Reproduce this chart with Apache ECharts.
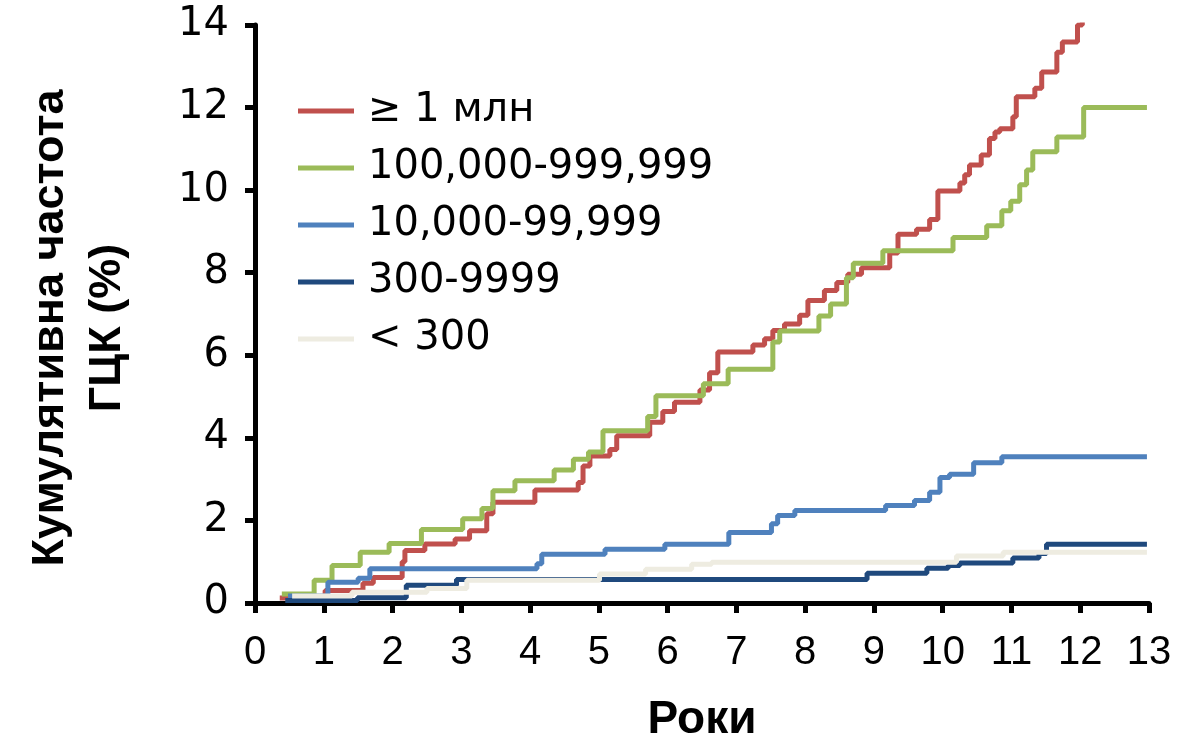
<!DOCTYPE html>
<html>
<head>
<meta charset="utf-8">
<script src="https://cdn.jsdelivr.net/npm/echarts@6/dist/echarts.min.js"></script>
<style>
  html, body { margin: 0; padding: 0; background: #fff; }
  #chart { width: 1181px; height: 748px; }
</style>
</head>
<body>
<div id="chart"></div>
<script>
// series names (legend order)
const seriesNames = ['≥ 1 млн', '100,000-999,999', '10,000-99,999', '300-9999', '< 300'];
const seriesColors = ['#C0504D', '#9BBB59', '#4F81BD', '#1F497D', '#EEECE1'];

// [years, cumulative %] at each step
const over1m = [
  [0.36, 0.12], [1.02, 0.3], [1.57, 0.48], [1.72, 0.62], [2.14, 1.0], [2.18, 1.27],
  [2.47, 1.43], [2.91, 1.55], [3.12, 1.75], [3.37, 2.16], [3.46, 2.44], [4.07, 2.74],
  [4.7, 2.92], [4.77, 3.32], [4.87, 3.56], [5.16, 3.72], [5.26, 4.05], [5.74, 4.38],
  [5.93, 4.64], [6.1, 4.86], [6.47, 5.16], [6.61, 5.58], [6.73, 6.08], [7.24, 6.25],
  [7.41, 6.4], [7.53, 6.6], [7.7, 6.76], [7.92, 6.97], [8.04, 7.33], [8.28, 7.57],
  [8.46, 7.76], [8.62, 7.96], [8.82, 8.12], [9.23, 8.48], [9.35, 8.93], [9.62, 9.05],
  [9.81, 9.29], [9.93, 9.98], [10.25, 10.17], [10.32, 10.37], [10.39, 10.61], [10.56, 10.85],
  [10.68, 11.25], [10.76, 11.41], [10.83, 11.49], [11.02, 11.78], [11.07, 12.26], [11.34, 12.47],
  [11.44, 12.86], [11.66, 13.34], [11.74, 13.59], [11.96, 14.0], [12.03, 14.3], [12.1, 14.7]
];
const from100k = [
  [0.39, 0.22], [0.86, 0.55], [1.12, 0.91], [1.53, 1.23], [1.95, 1.44], [2.42, 1.78],
  [3.02, 2.04], [3.3, 2.29], [3.46, 2.72], [3.78, 2.96], [4.35, 3.22], [4.63, 3.48],
  [4.85, 3.66], [5.06, 4.17], [5.71, 4.52], [5.83, 5.02], [6.52, 5.31], [6.88, 5.66],
  [7.53, 6.32], [7.63, 6.59], [8.2, 6.95], [8.37, 7.24], [8.6, 7.88], [8.7, 8.23],
  [9.13, 8.53], [10.15, 8.85], [10.64, 9.14], [10.86, 9.5], [10.99, 9.73], [11.12, 10.13],
  [11.22, 10.49], [11.31, 10.93], [11.66, 11.29], [12.05, 12.0], [12.97, 12.0]
];
const from10k = [
  [0.48, 0.17], [1.06, 0.5], [1.5, 0.6], [1.67, 0.83], [4.1, 0.95], [4.17, 1.18],
  [5.09, 1.3], [5.96, 1.42], [6.89, 1.71], [7.51, 1.92], [7.6, 2.12], [7.85, 2.24],
  [9.17, 2.36], [9.59, 2.48], [9.81, 2.68], [9.96, 3.04], [10.1, 3.12], [10.45, 3.4],
  [10.86, 3.54], [12.97, 3.54]
];
const from300 = [
  [0.44, 0.06], [1.49, 0.13], [2.2, 0.43], [2.93, 0.57], [8.9, 0.72], [9.77, 0.84],
  [10.08, 0.91], [10.25, 0.97], [11.02, 1.09], [11.4, 1.2], [11.51, 1.42], [12.97, 1.42]
];
const under300 = [
  [0.54, 0.17], [1.41, 0.26], [2.5, 0.35], [3.08, 0.55], [5.01, 0.7], [5.68, 0.82],
  [6.35, 0.94], [6.64, 0.99], [10.2, 1.14], [10.88, 1.23], [12.97, 1.23]
];
const seriesData = [over1m, from100k, from10k, from300, under300];

const chart = echarts.init(document.getElementById('chart'));

chart.setOption({
  animation: false,
  backgroundColor: '#fff',
  grid: { left: 255, right: 32, top: 25, bottom: 140 },
  legend: {
    orient: 'vertical',
    left: 293,
    top: 84,
    icon: 'rect',
    itemWidth: 56,
    itemHeight: 5,
    itemGap: 13,
    data: seriesNames,
    textStyle: {
      fontFamily: 'DejaVu Sans',
      fontSize: 40,
      lineHeight: 44,
      color: '#000',
      padding: [0, 0, 0, 9]
    }
  },
  xAxis: {
    type: 'value',
    min: 0,
    max: 13,
    interval: 1,
    name: 'Роки',
    nameLocation: 'middle',
    nameGap: 94,
    nameTextStyle: { fontFamily: 'Liberation Sans', fontWeight: 'bold', fontSize: 46, color: '#000' },
    splitLine: { show: false },
    axisLine: { onZero: false, lineStyle: { color: '#000', width: 5 } },
    axisTick: { length: 10, lineStyle: { color: '#000', width: 5 } },
    axisLabel: {
      margin: 30,
      fontFamily: "'Liberation Sans Narrow', 'Liberation Sans'",
      fontSize: 40,
      color: '#000'
    }
  },
  yAxis: {
    type: 'value',
    min: 0,
    max: 14,
    interval: 2,
    name: 'Кумулятивна частота\nГЦК (%)',
    nameLocation: 'middle',
    nameRotate: 90,
    nameGap: 119,
    nameTextStyle: {
      fontFamily: 'Liberation Sans', fontWeight: 'bold', fontSize: 45, lineHeight: 57, color: '#000',
      padding: [0, 28, 0, 0]
    },
    splitLine: { show: false },
    axisLine: { show: true, lineStyle: { color: '#000', width: 5 } },
    axisTick: { show: true, length: 10, lineStyle: { color: '#000', width: 5 } },
    axisLabel: {
      margin: 26,
      fontFamily: 'DejaVu Sans',
      fontSize: 40,
      color: '#000'
    }
  },
  series: seriesNames.map((name, i) => ({
    name: name,
    type: 'line',
    step: 'end',
    showSymbol: false,
    clip: true,
    data: seriesData[i],
    color: seriesColors[i],
    lineStyle: { color: seriesColors[i], width: 5 }
  }))
});
</script>
</body>
</html>
